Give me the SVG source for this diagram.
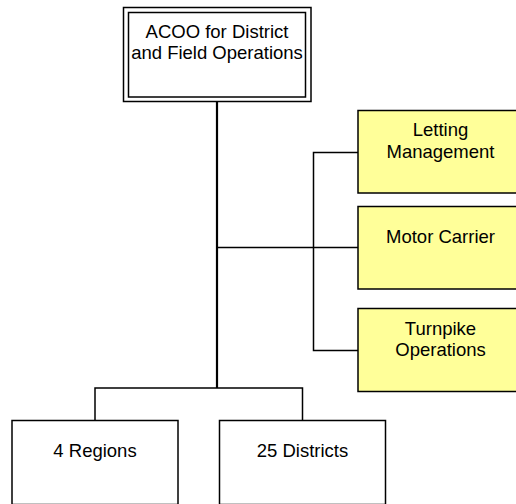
<svg xmlns="http://www.w3.org/2000/svg" width="516" height="504" viewBox="0 0 516 504">
  <style>
    .box { fill: #ffffff; stroke: #000000; stroke-width: 1.5; }
    .unit { fill: #ffff99; stroke: #000000; stroke-width: 1.5; }
    .lbl { font-family: "Liberation Sans", Arial, sans-serif; font-size: 18.5px; fill: #000000; text-anchor: middle; }
    .link { fill: none; stroke: #000000; stroke-width: 1.5; }
    .trunk { fill: none; stroke: #000000; stroke-width: 2.2; }
  </style>
  <rect x="0" y="0" width="516" height="504" fill="#ffffff"/>

  <!-- connectors -->
  <g id="connectors">
    <path class="trunk" d="M217,101 V388"/>
    <path class="link" d="M217,247.5 H358"/>
    <path class="link" d="M358,152.5 H313.5 V350.5 H358"/>
    <path class="link" d="M95,420 V388 H302.5 V420"/>
  </g>

  <!-- head office -->
  <g id="acoo">
    <rect class="box" x="123.5" y="7.5" width="187.5" height="94"/>
    <rect class="box" x="128.5" y="12.5" width="177" height="84.5"/>
    <text class="lbl" x="217" y="38">ACOO for District</text>
    <text class="lbl" x="217" y="59">and Field Operations</text>
  </g>

  <!-- staff units -->
  <g id="letting">
    <rect class="unit" x="358" y="110.5" width="165" height="82.5"/>
    <text class="lbl" x="440.5" y="136">Letting</text>
    <text class="lbl" x="440.5" y="157.5">Management</text>
  </g>
  <g id="motor-carrier">
    <rect class="unit" x="358" y="206.5" width="165" height="82.5"/>
    <text class="lbl" x="440.5" y="243">Motor Carrier</text>
  </g>
  <g id="turnpike">
    <rect class="unit" x="358" y="308.5" width="165" height="83"/>
    <text class="lbl" x="440.5" y="335">Turnpike</text>
    <text class="lbl" x="440.5" y="356">Operations</text>
  </g>

  <!-- line units -->
  <g id="regions">
    <rect class="box" x="12" y="420.5" width="166" height="84"/>
    <text class="lbl" x="95" y="457">4 Regions</text>
  </g>
  <g id="districts">
    <rect class="box" x="219.5" y="420.5" width="166" height="84"/>
    <text class="lbl" x="302.5" y="457">25 Districts</text>
  </g>
</svg>
